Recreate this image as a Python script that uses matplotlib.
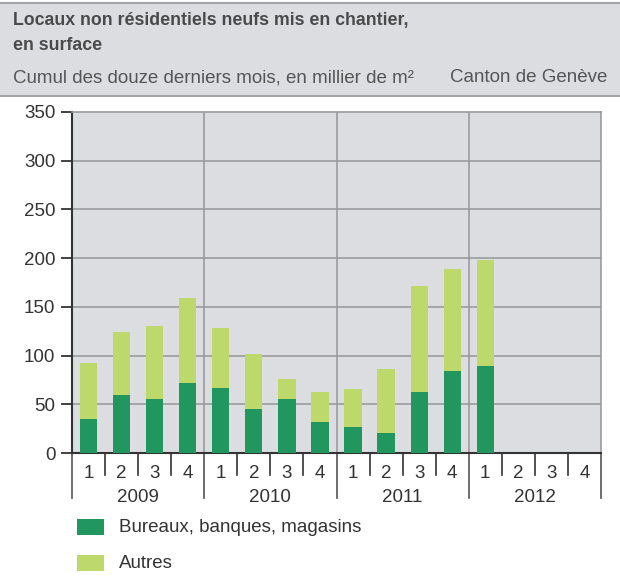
import matplotlib
matplotlib.use("Agg")
import matplotlib.pyplot as plt
from matplotlib.patches import Rectangle
from matplotlib.lines import Line2D
import matplotlib.transforms as mtransforms

plt.rcParams['font.family'] = ['Liberation Sans', 'DejaVu Sans']

# data (milliers de m2, cumul 12 derniers mois)
years = ["2009", "2010", "2011", "2012"]
quarters = ["1", "2", "3", "4"]
bureaux = [35, 60, 55, 72, 67, 45, 55, 32, 27, 21, 63, 84, 89]
autres = [57, 64, 75, 87, 61, 57, 21, 31, 39, 65, 108, 105, 109]
series_labels = ["Bureaux, banques, magasins", "Autres"]

DARK = "#21965f"
LIGHT = "#bdd96b"
BG = "#dcdde0"
GRID = "#9a9b9d"
TXT = "#333333"
FS = 13.5

W, H = 620, 576
fig = plt.figure(figsize=(W / 100, H / 100), dpi=100)


def fx(px):
    return px / W


def fy(py):
    return 1 - py / H


# header band
fig.patches.append(Rectangle((0, fy(96)), 1, fy(2) - fy(96), transform=fig.transFigure,
                             facecolor=BG, edgecolor="none", zorder=0))
for yy in (2.5, 95.5):
    fig.lines.append(Line2D([0, 1], [fy(yy), fy(yy)], transform=fig.transFigure,
                            color="#a3a4a6", lw=1.5))
fig.text(fx(13), fy(20), "Locaux non résidentiels neufs mis en chantier,", fontsize=12.8,
         fontweight="bold", color="#4a4a4a", va="center", ha="left")
fig.text(fx(13), fy(45), "en surface", fontsize=12.8, fontweight="bold", color="#4a4a4a",
         va="center", ha="left")
fig.text(fx(13), fy(78), "Cumul des douze derniers mois, en millier de m²", fontsize=FS,
         color="#555555", va="center", ha="left")
fig.text(fx(607), fy(78), "Canton de Genève", fontsize=FS, color="#555555",
         va="center", ha="right")

# axes
ax = fig.add_axes([fx(72), fy(453), fx(601) - fx(72), fy(112) - fy(453)])
ax.set_facecolor(BG)
n_slots = len(years) * len(quarters)
x = [i + 0.5 for i in range(len(bureaux))]
ax.bar(x, bureaux, width=0.52, color=DARK, zorder=3)
ax.bar(x, autres, width=0.52, bottom=bureaux, color=LIGHT, zorder=3)
ax.set_xlim(0, n_slots)
ax.set_ylim(0, 350)
ax.set_yticks(range(0, 351, 50))
ax.set_xticks([])
for v in range(50, 350, 50):
    ax.axhline(v, color=GRID, lw=1.2, zorder=1)
for k in range(1, len(years)):
    ax.axvline(k * len(quarters), color=GRID, lw=1.2, zorder=1)
for s in ("top", "right"):
    ax.spines[s].set_color(GRID)
    ax.spines[s].set_linewidth(1.2)
for s in ("left", "bottom"):
    ax.spines[s].set_color(TXT)
    ax.spines[s].set_linewidth(1.5)
ax.tick_params(axis="y", length=8, width=1.3, color=TXT, labelsize=FS,
               labelcolor=TXT, pad=4)

# category axis below
trans = mtransforms.blended_transform_factory(ax.transData, fig.transFigure)
for i in range(n_slots + 1):
    is_year = i % len(quarters) == 0
    bottom = 498 if is_year else 475
    ax.add_line(Line2D([i, i], [fy(453), fy(bottom)], transform=trans,
                       color="#555555" if is_year else TXT, lw=1.2, clip_on=False))
for yi, yr in enumerate(years):
    for qi, q in enumerate(quarters):
        ax.text(yi * len(quarters) + qi + 0.5, fy(473), q, transform=trans, ha="center",
                va="center", fontsize=FS, color=TXT)
    ax.text(yi * len(quarters) + len(quarters) / 2, fy(498), yr, transform=trans,
            ha="center", va="center", fontsize=FS, color=TXT)

# legend
for lab, col, yc in zip(series_labels, [DARK, LIGHT], [527, 563]):
    fig.patches.append(Rectangle((fx(77), fy(yc + 8)), fx(104) - fx(77), fy(yc - 8) - fy(yc + 8),
                                 transform=fig.transFigure, facecolor=col, edgecolor="none"))
    fig.text(fx(119), fy(yc), lab, fontsize=FS, color=TXT, va="center", ha="left")

fig.savefig("out.png", dpi=100)
